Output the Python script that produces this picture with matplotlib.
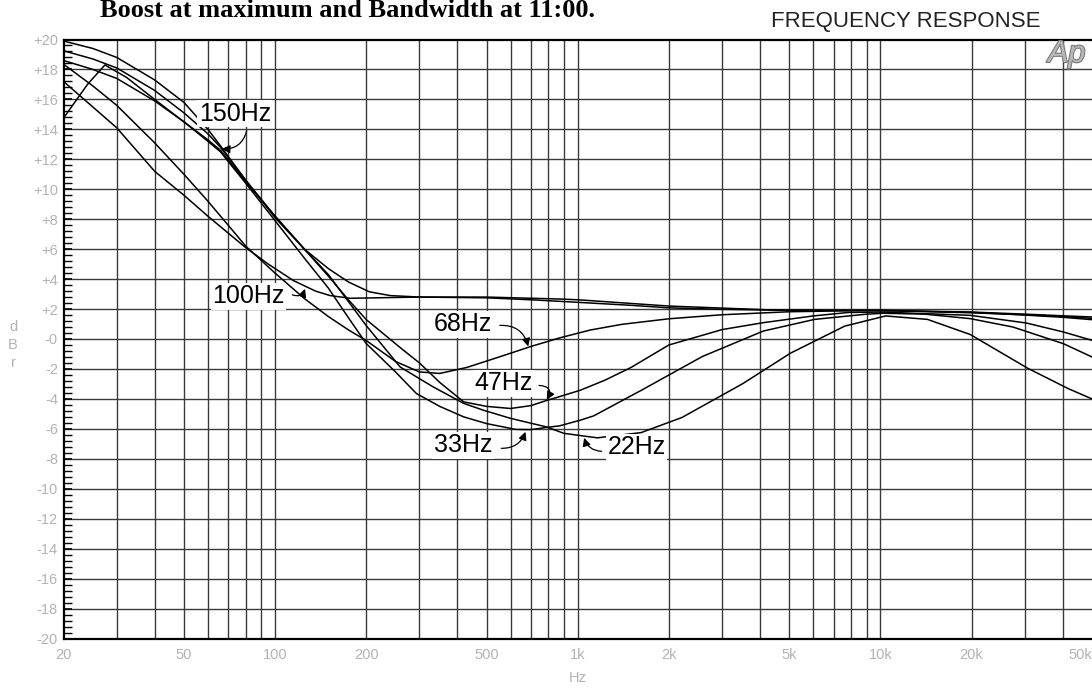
import matplotlib
matplotlib.use('Agg')
import matplotlib.pyplot as plt
import matplotlib.patheffects as pe
from matplotlib.ticker import FixedLocator, NullFormatter

plt.rcParams['font.family'] = ['Liberation Sans', 'DejaVu Sans']

# ---- data (Hz, dBr) ----
f150 = [20, 25, 30, 40, 50, 60, 66, 80, 100, 125, 150, 175, 205, 240, 300, 500, 700,
        1000, 1500, 2000, 3000, 4500, 10000, 20000, 30000, 40000, 50000]
db150 = [19.9, 19.4, 18.8, 17.3, 15.8, 14.0, 12.9, 10.6, 8.1, 6.0, 4.7, 3.8, 3.15, 2.9, 2.8, 2.75, 2.62,
         2.45, 2.25, 2.08, 1.98, 1.93, 1.9, 1.8, 1.66, 1.55, 1.47]

f100 = [20, 30, 40, 50, 60, 80, 95, 115, 136, 152, 177, 230, 300, 500, 870, 1000, 2000,
        4500, 10000, 20000, 30000, 40000, 50000]
db100 = [17.2, 14.1, 11.2, 9.6, 8.2, 6.1, 5.0, 3.9, 3.2, 2.9, 2.72, 2.76, 2.8, 2.8, 2.67, 2.62, 2.2,
         1.93, 1.9, 1.78, 1.6, 1.45, 1.29]

f68 = [20, 25, 30, 40, 50, 60, 70, 80, 100, 125, 150, 175, 200, 250, 300, 350, 430, 550, 700,
       870, 1100, 1400, 2000, 3000, 5000, 10000, 20000, 30000, 40000, 50000]
db68 = [18.35, 16.9, 15.6, 13.1, 11.0, 9.2, 7.6, 6.2, 4.4, 2.7, 1.5, 0.6, -0.1, -1.5, -2.2, -2.3, -1.9, -1.2, -0.5,
        0.07, 0.6, 0.98, 1.35, 1.62, 1.82, 1.92, 1.75, 1.62, 1.5, 1.38]

f47 = [20, 25, 30, 40, 50, 60, 66, 80, 100, 125, 150, 175, 200, 260, 300, 350, 420, 500, 600, 700,
       790, 870, 1020, 1230, 1500, 2000, 3000, 4100, 6000, 7800, 10000, 19800, 30300, 40200, 50000]
db47 = [19.25, 18.7, 18.1, 16.6, 15.1, 13.7, 12.8, 10.6, 8.2, 6.0, 4.2, 2.6, 1.3, -0.6, -1.6, -2.9, -4.2, -4.5, -4.64, -4.45,
        -4.1, -3.85, -3.42, -2.75, -1.9, -0.4, 0.63, 1.09, 1.54, 1.77, 1.8, 1.58, 1.07, 0.47, -0.09]

f33 = [20, 25, 30, 40, 50, 60, 66, 80, 100, 125, 150, 175, 200, 250, 293, 350, 420, 500, 625, 700,
       793, 870, 1020, 1130, 1620, 2580, 4100, 6060, 8900, 10200, 14000, 19800, 27400, 40200, 50000]
db33 = [18.6, 18.0, 17.4, 15.9, 14.5, 13.2, 12.5, 10.4, 7.9, 5.4, 3.4, 1.4, -0.3, -2.2, -3.64, -4.5, -5.2, -5.65, -6.04, -6.05,
        -5.9, -5.8, -5.42, -5.13, -3.43, -1.17, 0.53, 1.31, 1.65, 1.72, 1.66, 1.36, 0.8, -0.31, -1.2]

f22 = [20, 24, 27.4, 32.3, 40, 50, 60, 66, 80, 100, 125, 150, 200, 259, 333, 420, 487, 600, 788,
       900, 1160, 1620, 2210, 3510, 5040, 7620, 10400, 14300, 19800, 30700, 41800, 50000]
db22 = [14.75, 17.0, 18.3, 17.47, 16.0, 14.5, 13.3, 12.6, 10.5, 8.2, 6.0, 4.3, 0.9, -1.87, -3.2, -4.3, -4.75, -5.3, -5.87,
        -6.3, -6.6, -6.25, -5.24, -2.98, -0.95, 0.86, 1.54, 1.31, 0.3, -1.96, -3.32, -4.0]

curves = [(f150, db150), (f100, db100), (f68, db68), (f47, db47), (f33, db33), (f22, db22)]

# label text, text pos (Hz, dB), arrow start, arrow tip, curvature
labels = [
    ('150Hz', (73.6, 15.05), (80.6, 13.9), (66.7, 12.7), -0.4),
    ('100Hz', (81.8, 2.85), (114, 2.95), (125.6, 3.35), 0.5),
    ('68Hz', (418, 0.98), (553, 0.91), (686, -0.5), -0.4),
    ('47Hz', (570, -2.95), (745, -3.1), (790, -4.05), -0.8),
    ('33Hz', (418, -7.09), (559, -7.3), (672, -6.2), 0.35),
    ('22Hz', (1566, -7.22), (1200, -7.5), (1050, -6.6), -0.35),
]

xticks = [20, 50, 100, 200, 500, 1000, 2000, 5000, 10000, 20000, 50000]
xticklabels = ['20', '50', '100', '200', '500', '1k', '2k', '5k', '10k', '20k', '50k']
yticks = list(range(-20, 21, 2))
yticklabels = [('+%d' % v) if v > 0 else ('-0' if v == 0 else '%d' % v) for v in yticks]

gray = '#b3b3b3'

fig = plt.figure(figsize=(10.92, 6.88), dpi=100)
ax = fig.add_axes([63.5 / 1092, 49.5 / 688, 1028.5 / 1092, 599 / 688])
ax.set_xscale('log')
ax.set_xlim(20, 50000)
ax.set_ylim(-20, 20)

# grid: every 1..9 per decade, every 2 dB
vgrid = [m * 10 ** e for e in range(1, 5) for m in range(1, 10)]
vgrid = [v for v in vgrid if 20 < v < 50000]
for v in vgrid:
    ax.axvline(v, color='#3a3a3a', lw=1.0, zorder=1)
for h in yticks[1:-1]:
    ax.axhline(h, color='#3a3a3a', lw=1.0, zorder=1)

for f, db in curves:
    ax.plot(f, db, color='black', lw=1.1, zorder=3)

for txt, tpos, start, tip, rad in labels:
    ax.text(tpos[0], tpos[1], txt, fontsize=18, ha='center', va='center', zorder=5,
            bbox=dict(facecolor='white', edgecolor='none', pad=1.0))
    ax.annotate('', xy=tip, xytext=start, zorder=6,
                arrowprops=dict(arrowstyle='-|>', color='black', lw=0.9, mutation_scale=12,
                                shrinkA=0, shrinkB=0, connectionstyle='arc3,rad=%s' % rad))

ax.xaxis.set_major_locator(FixedLocator(xticks))
ax.xaxis.set_minor_formatter(NullFormatter())
ax.xaxis.set_minor_locator(FixedLocator([]))
ax.set_xticklabels(xticklabels)
ax.tick_params(axis='x', which='major', length=0, pad=7, labelsize=10.5, labelcolor=gray)
ax.get_xticklabels()[-1].set_ha('right')

ax.yaxis.set_major_locator(FixedLocator(yticks))
ax.set_yticklabels(yticklabels)
ax.yaxis.set_minor_locator(FixedLocator([v / 10 for v in range(-200, 201, 4) if v % 20 != 0]))
ax.tick_params(axis='y', which='major', direction='in', length=6, width=1.2, pad=4, labelsize=10.5, labelcolor=gray)
ax.tick_params(axis='y', which='minor', direction='in', length=6, width=1.0)

for s in ['left', 'bottom', 'top']:
    ax.spines[s].set_linewidth(1.6)
ax.spines['right'].set_visible(False)

fig.text(13 / 1092, 1 - 345 / 688, 'd\nB\nr', color=gray, fontsize=10.5, ha='center', va='center',
         linespacing=1.4)
fig.text(578 / 1092, 1 - 678 / 688, 'Hz', color=gray, fontsize=10.5, ha='center', va='center')

fig.text(100 / 1092, 1 - 17 / 688, 'Boost at maximum and Bandwidth at 11:00.',
         family=['Liberation Serif', 'DejaVu Serif'], fontweight='bold', fontsize=19,
         ha='left', va='baseline')
fig.text(771 / 1092, 1 - 27 / 688, 'FREQUENCY RESPONSE', color='#222222', fontsize=16,
         ha='left', va='baseline')
fig.text(1048 / 1092, 1 - 62 / 688, 'Ap', color='#b8b8b8', fontsize=22, fontstyle='italic',
         ha='left', va='baseline', zorder=10,
         path_effects=[pe.withStroke(linewidth=1.5, foreground='#777777')])

fig.savefig('out.png', dpi=100)
